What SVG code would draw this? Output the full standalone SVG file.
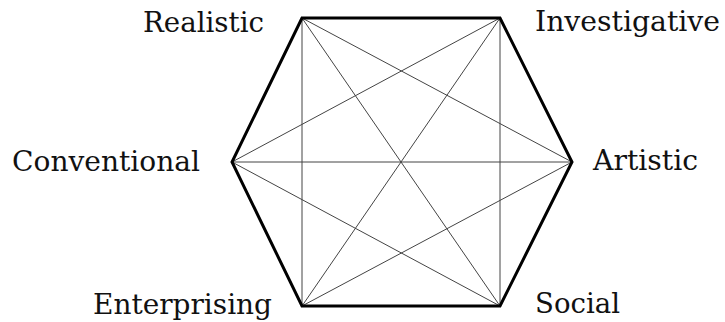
<svg xmlns="http://www.w3.org/2000/svg" width="725" height="322" viewBox="0 0 725 322">
<style>
.lbl{font-family:"DejaVu Serif","Liberation Serif",serif;font-size:28px;fill:#111;}
.edge{stroke:#000;stroke-width:3;fill:none;stroke-linejoin:miter;}
.diag{stroke:#444;stroke-width:1;}
</style>
<rect width="725" height="322" fill="#fff"/>
<g id="connectors">
<line class="diag" x1="302" y1="18" x2="302" y2="306"/>
<line class="diag" x1="500" y1="18" x2="500" y2="306"/>
<line class="diag" x1="232" y1="162" x2="572" y2="162"/>
<line class="diag" x1="302" y1="18" x2="500" y2="306"/>
<line class="diag" x1="500" y1="18" x2="302" y2="306"/>
<line class="diag" x1="302" y1="18" x2="572" y2="162"/>
<line class="diag" x1="500" y1="18" x2="232" y2="162"/>
<line class="diag" x1="232" y1="162" x2="500" y2="306"/>
<line class="diag" x1="572" y1="162" x2="302" y2="306"/>
<polygon class="edge" points="302,18 500,18 572,162 500,306 302,306 232,162"/>
</g>
<g id="realistic"><text class="lbl" x="143" y="32" textLength="121" lengthAdjust="spacingAndGlyphs">Realistic</text></g>
<g id="investigative"><text class="lbl" x="535" y="31" textLength="185" lengthAdjust="spacingAndGlyphs">Investigative</text></g>
<g id="conventional"><text class="lbl" x="12" y="171" textLength="188" lengthAdjust="spacingAndGlyphs">Conventional</text></g>
<g id="artistic"><text class="lbl" x="593" y="170" textLength="105" lengthAdjust="spacingAndGlyphs">Artistic</text></g>
<g id="enterprising"><text class="lbl" x="93" y="314" textLength="179" lengthAdjust="spacingAndGlyphs">Enterprising</text></g>
<g id="social"><text class="lbl" x="535" y="313" textLength="85" lengthAdjust="spacingAndGlyphs">Social</text></g>
</svg>
